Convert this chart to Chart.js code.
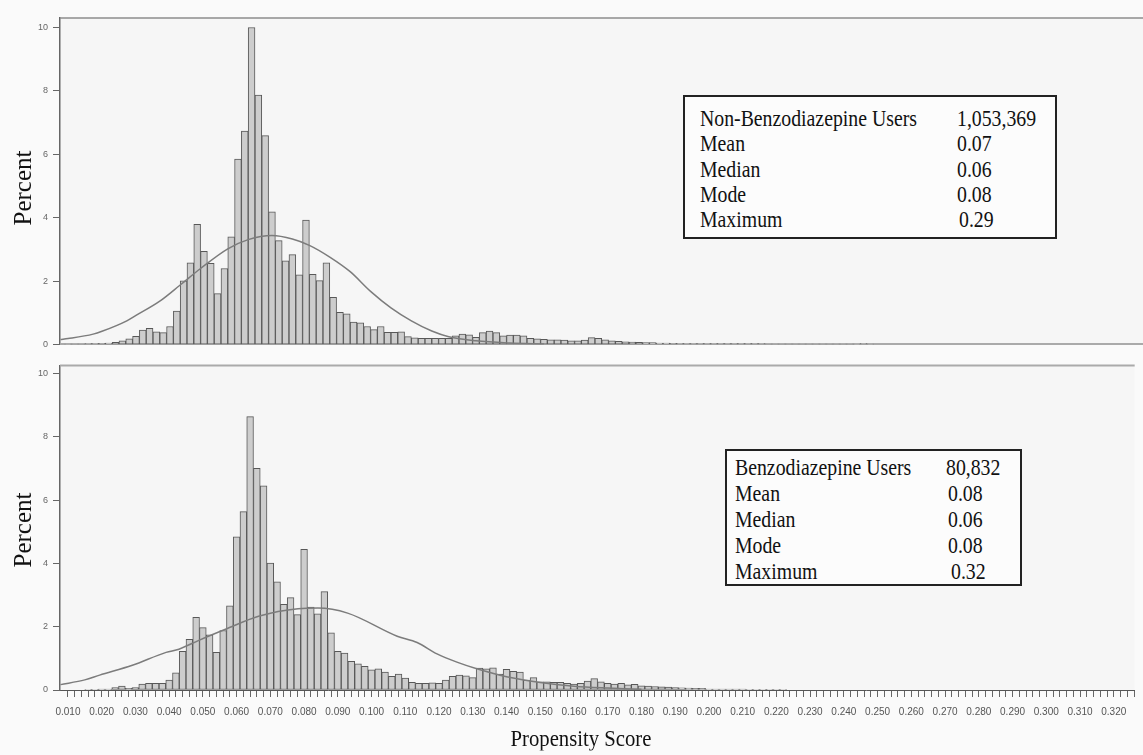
<!DOCTYPE html>
<html>
<head>
<meta charset="utf-8">
<title>Propensity Score distribution</title>
<script src="https://cdn.jsdelivr.net/npm/chart.js@4.4.1/dist/chart.umd.min.js"></script>
<style>
  html, body { margin: 0; padding: 0; background: #fafafa; }
  #wrap { position: relative; width: 1143px; height: 755px; overflow: hidden;
          font-family: 'Liberation Serif', 'Times New Roman', serif; color: #111; }
  canvas { position: absolute; left: 0; }
  .ytitle { position: absolute; font-size: 25px; line-height: 1; white-space: nowrap;
            transform: translate(-50%, -50%) rotate(-90deg); }
  .xtitle { position: absolute; font-size: 23px; line-height: 1; white-space: nowrap;
            transform: translate(-50%, -50%) scaleX(0.9); }
  .statbox { position: absolute; border: 2px solid #222; background: #fcfcfc; box-sizing: border-box; }
  .row { position: absolute; font-size: 23px; line-height: 1; white-space: nowrap;
         transform-origin: left center; transform: translateY(-50%) scaleX(0.86); }
</style>
</head>
<body>
<div id="wrap">
  <canvas id="topChart" width="1143" height="355" style="top:0"></canvas>
  <canvas id="bottomChart" width="1143" height="400" style="top:355px"></canvas>
  <div class="ytitle" style="left:22px; top:188px">Percent</div>
  <div class="ytitle" style="left:22px; top:530px">Percent</div>
  <div class="xtitle" style="left:581px; top:738px">Propensity Score</div>
</div>
<script>
// histogram bins: midpoints every 0.002 starting at 0.010
const binWidth = 0.002;
const firstMid = 0.010;

// Non-Benzodiazepine users, percent per bin (0.010 ... 0.246)
const topPercent = [
  0.01, 0.02, 0.02, 0.03, 0.03,
  0.04, 0.05, 0.07, 0.12, 0.18,
  0.26, 0.46, 0.51, 0.40, 0.38,
  0.57, 1.06, 2.01, 2.58, 3.79,
  2.94, 2.56, 1.61, 2.40, 3.40,
  5.85, 6.73, 10.0, 7.87, 6.59,
  4.19, 3.28, 2.64, 2.84, 2.20,
  3.93, 2.22, 2.02, 2.58, 1.49,
  1.02, 0.97, 0.71, 0.69, 0.57,
  0.47, 0.57, 0.39, 0.39, 0.40,
  0.25, 0.21, 0.20, 0.20, 0.20,
  0.20, 0.20, 0.28, 0.33, 0.31,
  0.23, 0.38, 0.43, 0.38, 0.28,
  0.30, 0.30, 0.28, 0.20, 0.18,
  0.17, 0.15, 0.15, 0.14, 0.12,
  0.12, 0.14, 0.22, 0.20, 0.15,
  0.12, 0.10, 0.09, 0.08, 0.07,
  0.06, 0.06, 0.05, 0.05, 0.04,
  0.03, 0.03, 0.03, 0.03, 0.03,
  0.03, 0.03, 0.03, 0.03, 0.03,
  0.03, 0.03, 0.03, 0.02, 0.02,
  0.02, 0.02, 0.02, 0.02, 0.02,
  0.02, 0.02, 0.02, 0.02, 0.02,
  0.02, 0.01, 0.03, 0.01
];

// Benzodiazepine users, percent per bin (0.010 ... 0.222)
const bottomPercent = [
  null, null, null, 0.01, 0.01,
  0.03, 0.03, 0.08, 0.12, 0.05,
  0.08, 0.19, 0.21, 0.21, 0.21,
  0.31, 0.54, 1.22, 1.60, 2.30,
  1.97, 1.74, 1.19, 1.88, 2.66,
  4.84, 5.64, 8.64, 7.01, 6.45,
  4.01, 3.42, 2.71, 2.92, 2.38,
  4.45, 2.62, 2.41, 3.11, 1.81,
  1.22, 1.17, 0.91, 0.83, 0.75,
  0.64, 0.67, 0.57, 0.43, 0.50,
  0.38, 0.24, 0.21, 0.21, 0.23,
  0.21, 0.31, 0.43, 0.47, 0.45,
  0.39, 0.69, 0.67, 0.70, 0.50,
  0.65, 0.59, 0.57, 0.31, 0.39,
  0.26, 0.26, 0.24, 0.24, 0.21,
  0.19, 0.21, 0.28, 0.36, 0.26,
  0.21, 0.19, 0.21, 0.16, 0.18,
  0.13, 0.12, 0.11, 0.10, 0.09,
  0.08, 0.07, 0.06, 0.05, 0.05,
  0.03, 0.03, 0.03, 0.03, 0.03,
  0.03, 0.02, 0.02, 0.02, 0.02,
  0.02, 0.01
];

// fitted normal curves
const topCurveX = [0.0078, 0.010, 0.0174, 0.020, 0.0273, 0.030, 0.037, 0.043, 0.049, 0.057, 0.063,
  0.070, 0.076, 0.081, 0.087, 0.093, 0.099, 0.105, 0.111, 0.117, 0.122, 0.130, 0.140, 0.150];
const topCurveY = [0.16, 0.19, 0.33, 0.42, 0.75, 0.92, 1.37, 1.88, 2.40, 3.02, 3.31,
  3.44, 3.33, 3.13, 2.76, 2.30, 1.68, 1.16, 0.75, 0.43, 0.25, 0.12, 0.05, 0.02];

const bottomCurveX = [0.0078, 0.015, 0.0194, 0.0291, 0.0391, 0.0429, 0.0488, 0.0567, 0.0665, 0.0782,
  0.0841, 0.0929, 0.1076, 0.1135, 0.1194, 0.1253, 0.1312, 0.140, 0.150, 0.160, 0.170, 0.180];
const bottomCurveY = [0.17, 0.32, 0.47, 0.78, 1.19, 1.29, 1.57, 1.92, 2.33, 2.57,
  2.59, 2.43, 1.70, 1.50, 1.14, 0.88, 0.67, 0.42, 0.24, 0.12, 0.06, 0.02];

const xTickLabels = ['0.010', '0.020', '0.030', '0.040', '0.050', '0.060', '0.070', '0.080',
  '0.090', '0.100', '0.110', '0.120', '0.130', '0.140', '0.150', '0.160', '0.170', '0.180',
  '0.190', '0.200', '0.210', '0.220', '0.230', '0.240', '0.250', '0.260', '0.270', '0.280',
  '0.290', '0.300', '0.310', '0.320'];
const yTicks = [0, 2, 4, 6, 8, 10];

const topStats = [
  ['Non-Benzodiazepine Users', '1,053,369'],
  ['Mean', '0.07'],
  ['Median', '0.06'],
  ['Mode', '0.08'],
  ['Maximum', '0.29']
];
const bottomStats = [
  ['Benzodiazepine Users', '80,832'],
  ['Mean', '0.08'],
  ['Median', '0.06'],
  ['Mode', '0.08'],
  ['Maximum', '0.32']
];

const xMin = 0.00765;
const xMax = 0.3262;

// minor ticks every bin width, labels only every 0.010
const xTickValues = [];
for (let k = 5; k <= 163; k++) xTickValues.push(+(k * binWidth).toFixed(3));

Chart.defaults.font.family = "'Liberation Sans', Arial, sans-serif";

const panelFrame = {
  id: 'panelFrame',
  beforeDraw(chart) {
    const { ctx, chartArea: a } = chart;
    ctx.save();
    ctx.fillStyle = '#f6f6f6';
    ctx.fillRect(a.left, a.top, a.right - a.left, a.bottom - a.top);
    ctx.restore();
  },
  beforeDatasetsDraw(chart, args, opts) {
    const { ctx, chartArea: a } = chart;
    ctx.save();
    (opts.lines || []).forEach(l => {
      const y = l.edge === 'top' ? a.top : a.bottom - 0.5;
      ctx.strokeStyle = l.color;
      ctx.lineWidth = l.width;
      ctx.beginPath();
      ctx.moveTo(a.left, y);
      ctx.lineTo(a.right, y);
      ctx.stroke();
    });
    ctx.restore();
  }
};

function histData(values) {
  return values.map((v, i) => ({ x: +(firstMid + i * binWidth).toFixed(3), y: v }));
}

function curveData(xs, ys) {
  return xs.map((x, i) => ({ x: x, y: ys[i] }));
}

function makeChart(id, values, curveX, curveY, yMax, showX, padding, lines) {
  const ctx = document.getElementById(id).getContext('2d');
  return new Chart(ctx, {
    type: 'bar',
    data: {
      datasets: [
        {
          type: 'line',
          data: curveData(curveX, curveY),
          borderColor: '#7c7c7c',
          borderWidth: 1.5,
          pointRadius: 0,
          cubicInterpolationMode: 'monotone',
          fill: false,
          order: 0
        },
        {
          type: 'bar',
          data: histData(values),
          backgroundColor: '#cdcdcd',
          borderColor: '#585858',
          borderWidth: 1,
          borderSkipped: false,
          barPercentage: 1,
          categoryPercentage: 1,
          order: 1
        }
      ]
    },
    options: {
      responsive: false,
      animation: false,
      devicePixelRatio: 1,
      layout: { padding: padding },
      plugins: {
        legend: { display: false },
        tooltip: { enabled: false },
        panelFrame: { lines: lines }
      },
      scales: {
        x: {
          type: 'linear',
          display: showX,
          min: xMin,
          max: xMax,
          offset: false,
          afterBuildTicks: s => { s.ticks = xTickValues.map(v => ({ value: v })); },
          afterFit: s => { s.height = showX ? 65 : 0; },
          grid: { drawOnChartArea: false, offset: false, tickLength: 7, tickColor: '#666' },
          border: { color: '#555', width: 1 },
          ticks: {
            autoSkip: false,
            maxRotation: 0,
            minRotation: 0,
            padding: 9,
            color: '#555',
            font: { size: 10 },
            callback: v => {
              const t = v.toFixed(3);
              return xTickLabels.includes(t) ? t : '';
            }
          }
        },
        y: {
          min: 0,
          max: yMax,
          afterBuildTicks: s => { s.ticks = yTicks.map(v => ({ value: v })); },
          afterFit: s => { s.width = 60; },
          grid: { drawOnChartArea: false, tickLength: 7, tickColor: '#666' },
          border: { color: '#666', width: 1.5 },
          ticks: { padding: 5, color: '#666', font: { size: 9 } }
        }
      }
    },
    plugins: [panelFrame]
  });
}

makeChart('topChart', topPercent, topCurveX, topCurveY, 10.30, false,
  { top: 18, bottom: 4, left: 0, right: 0 },
  [{ edge: 'top', color: '#8c8c8c', width: 1.5 }, { edge: 'bottom', color: '#aaaaaa', width: 2 }]);

makeChart('bottomChart', bottomPercent, bottomCurveX, bottomCurveY, 10.26, true,
  { top: 5, bottom: 0, left: 0, right: 0 },
  [{ edge: 'top', color: '#aaaaaa', width: 2 }]);

// summary boxes
const wrap = document.getElementById('wrap');
function statBox(stats, box, col1, col2, rowsY) {
  const b = document.createElement('div');
  b.className = 'statbox';
  b.style.left = box[0] + 'px';
  b.style.top = box[1] + 'px';
  b.style.width = (box[2] - box[0]) + 'px';
  b.style.height = (box[3] - box[1]) + 'px';
  wrap.appendChild(b);
  stats.forEach((s, i) => {
    [[s[0], col1], [s[1], col2[i]]].forEach(p => {
      const r = document.createElement('div');
      r.className = 'row';
      r.textContent = p[0];
      r.style.left = p[1] + 'px';
      r.style.top = rowsY[i] + 'px';
      wrap.appendChild(r);
    });
  });
}

statBox(topStats, [683, 95, 1057, 239], 700, [957, 957, 957, 957, 959], [118, 143, 169, 194, 219]);
statBox(bottomStats, [725, 449, 1022, 586], 735, [946, 948, 948, 948, 951], [467, 493, 519, 545, 571]);
</script>
</body>
</html>
